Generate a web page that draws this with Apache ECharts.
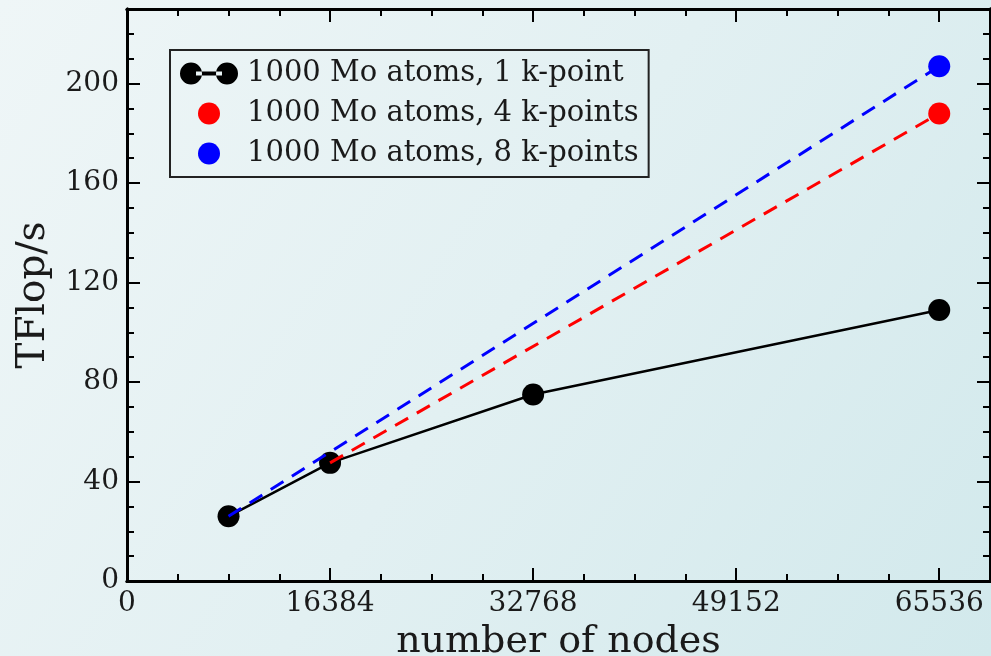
<!DOCTYPE html>
<html>
<head>
<meta charset="utf-8">
<script src="https://cdn.jsdelivr.net/npm/echarts@6/dist/echarts.min.js"></script>
<style>
  html, body { margin: 0; padding: 0; }
  #main { width: 991px; height: 656px; }
</style>
</head>
<body>
<div id="main"></div>
<script>
// data
var legendNames = ["1000 Mo atoms, 1 k-point", "1000 Mo atoms, 4 k-points", "1000 Mo atoms, 8 k-points"];
var nodes1k = [8192, 16384, 32768, 65536];
var tflops1k = [26, 47.5, 75, 109];
var nodes4k = [16384, 65536];
var tflops4k = [47.5, 188];
var nodes8k = [8192, 65536];
var tflops8k = [26, 207];
var xTicks = [0, 16384, 32768, 49152, 65536];
var yTicks = [0, 40, 80, 120, 160, 200];

var FONT = "DejaVu Serif";
var xMax = 69632, yMax = 230;

function pairs(xs, ys) {
  return xs.map(function (x, i) { return [x, ys[i]]; });
}
// first point of the dashed lines has no marker
function dashedData(xs, ys) {
  return pairs(xs, ys).map(function (p, i) {
    return i === 0 ? { value: p, symbol: "none" } : { value: p };
  });
}

function xAx(pos, interval, tickLen, showLabel) {
  return {
    type: "value", position: pos, min: 0, max: xMax, interval: interval,
    axisLine: { show: true, onZero: false, lineStyle: { color: "#000", width: 3 } },
    axisTick: { show: true, inside: true, length: tickLen, lineStyle: { color: "#000", width: 2 } },
    axisLabel: {
      show: showLabel, margin: 9, color: "#1a1a1a", fontFamily: FONT, fontSize: 28,
      showMaxLabel: false,
      formatter: function (v) { return xTicks.indexOf(v) >= 0 ? String(v) : ""; }
    },
    splitLine: { show: false }
  };
}
function yAx(pos, interval, tickLen, showLabel) {
  return {
    type: "value", position: pos, min: 0, max: yMax, interval: interval,
    axisLine: { show: true, onZero: false, lineStyle: { color: "#000", width: 3 } },
    axisTick: { show: true, inside: true, length: tickLen, lineStyle: { color: "#000", width: 2 } },
    axisLabel: {
      show: showLabel, margin: 8, color: "#1a1a1a", fontFamily: FONT, fontSize: 28,
      showMaxLabel: false,
      formatter: function (v) { return yTicks.indexOf(v) >= 0 ? String(v) : ""; }
    },
    splitLine: { show: false }
  };
}

var xAxes = [xAx("bottom", 16384, 13, true), xAx("bottom", 4096, 7, false),
             xAx("top", 16384, 13, false), xAx("top", 4096, 7, false)];
xAxes[0].name = "number of nodes";
xAxes[0].nameLocation = "middle";
xAxes[0].nameGap = 33;
xAxes[0].nameTextStyle = { fontFamily: FONT, fontSize: 38, color: "#1a1a1a" };

var yAxes = [yAx("left", 40, 13, true), yAx("left", 10, 7, false),
             yAx("right", 40, 13, false), yAx("right", 10, 7, false)];
yAxes[0].name = "TFlop/s";
yAxes[0].nameLocation = "middle";
yAxes[0].nameGap = 74;
yAxes[0].nameTextStyle = { fontFamily: FONT, fontSize: 39, color: "#1a1a1a" };

var chart = echarts.init(document.getElementById("main"));
chart.setOption({
  animation: false,
  backgroundColor: new echarts.graphic.LinearGradient(0, 0, 1, 1, [
    { offset: 0, color: "#eff6f7" },
    { offset: 0.5, color: "#e2f0f2" },
    { offset: 1, color: "#d2e9ec" }
  ]),
  grid: { left: 127, right: 1, top: 9, bottom: 75, outerBoundsMode: "none" },
  legend: {
    orient: "vertical",
    left: 170, top: 50,
    padding: [9, 10, 9, 10],
    itemGap: 11,
    itemWidth: 58, itemHeight: 22,
    borderColor: "#222", borderWidth: 2,
    textStyle: { fontFamily: FONT, fontSize: 29, color: "#1a1a1a", padding: [0, 0, 0, 4] },
    data: [
      { name: legendNames[0], icon: "path://M0,11a11,11 0 1,0 22,0a11,11 0 1,0 -22,0Z M36,11a11,11 0 1,0 22,0a11,11 0 1,0 -22,0Z M16,9h26v4h-26Z" },
      { name: legendNames[1], icon: "circle" },
      { name: legendNames[2], icon: "circle" }
    ]
  },
  xAxis: xAxes,
  yAxis: yAxes,
  series: [
    {
      name: legendNames[0], type: "line", z: 2,
      symbol: "circle", symbolSize: 22,
      itemStyle: { color: "#000" },
      lineStyle: { color: "#000", width: 2.5 },
      data: pairs(nodes1k, tflops1k)
    },
    {
      name: legendNames[1], type: "line", z: 3,
      symbol: "circle", symbolSize: 22,
      itemStyle: { color: "#ff0000" },
      lineStyle: { color: "#ff0000", width: 3, type: [15, 10] },
      data: dashedData(nodes4k, tflops4k)
    },
    {
      name: legendNames[2], type: "line", z: 3,
      symbol: "circle", symbolSize: 22,
      itemStyle: { color: "#0000ff" },
      lineStyle: { color: "#0000ff", width: 3, type: [15, 10] },
      data: dashedData(nodes8k, tflops8k)
    }
  ]
});
</script>
</body>
</html>
